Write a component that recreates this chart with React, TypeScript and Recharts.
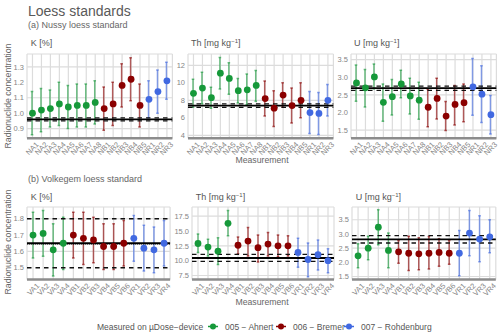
import React from 'react';
import { ComposedChart, Bar, Scatter, XAxis, YAxis, CartesianGrid, ReferenceLine } from 'recharts';

const FONT = '"Liberation Sans", Arial, Helvetica, sans-serif';

// categories (second letter = lab: A = Ahnert, B = Bremer, R = Rohdenburg)
const nussyCats = ['NA1', 'NA2', 'NA3', 'NA4', 'NA5', 'NA6', 'NA7', 'NA8', 'NB1', 'NB2', 'NB3', 'NB4', 'NB5', 'NR1', 'NR2', 'NR3'];
const volkCats = ['VA1', 'VA2', 'VA3', 'VA4', 'VB1', 'VB2', 'VB3', 'VB4', 'VB5', 'VB6', 'VR1', 'VR2', 'VR3', 'VR4'];

// (a) Nussy
const kNussy = [1.0, 1.02, 1.03, 1.06, 1.04, 1.05, 1.05, 1.07, 1.03, 1.06, 1.18, 1.22, 1.05, 1.09, 1.14, 1.21];
const kNussyLo = [0.86, 0.88, 0.91, 0.92, 0.9, 0.91, 0.91, 0.93, 0.89, 0.92, 1.04, 1.08, 0.91, 0.97, 1.0, 1.09];
const kNussyHi = [1.14, 1.16, 1.15, 1.2, 1.18, 1.19, 1.19, 1.21, 1.17, 1.2, 1.32, 1.36, 1.19, 1.21, 1.28, 1.33];

const thNussy = [8.8, 9.4, 8.3, 11.1, 10.5, 9.1, 9.2, 9.7, 8.2, 7.1, 8.6, 7.4, 8.0, 6.6, 6.5, 8.0];
const thNussyLo = [7.2, 7.6, 7.1, 9.3, 8.7, 7.7, 7.5, 7.9, 6.2, 5.0, 7.2, 5.4, 6.0, 4.2, 4.1, 6.2];
const thNussyHi = [10.4, 11.2, 9.5, 12.9, 12.3, 10.5, 11.0, 11.4, 10.2, 9.1, 10.0, 9.4, 10.0, 9.0, 8.9, 9.8];

const uNussy = [2.84, 2.7, 3.01, 2.29, 2.45, 2.81, 2.47, 2.35, 2.15, 2.4, 1.9, 2.23, 2.28, 2.73, 2.52, 1.94];
const uNussyLo = [2.32, 2.16, 2.67, 1.75, 1.93, 2.42, 1.96, 1.81, 1.6, 1.82, 1.49, 1.65, 1.74, 1.92, 1.72, 1.39];
const uNussyHi = [3.35, 3.22, 3.38, 2.81, 2.94, 3.2, 2.97, 2.86, 2.67, 2.97, 2.31, 2.77, 2.81, 3.53, 3.33, 2.48];

// (b) Volkegem
const kVolk = [1.7, 1.71, 1.61, 1.65, 1.7, 1.68, 1.67, 1.63, 1.63, 1.65, 1.68, 1.62, 1.61, 1.65];
const kVolkLo = [1.56, 1.57, 1.45, 1.49, 1.56, 1.52, 1.53, 1.49, 1.49, 1.51, 1.54, 1.48, 1.47, 1.51];
const kVolkHi = [1.84, 1.85, 1.77, 1.81, 1.84, 1.84, 1.81, 1.77, 1.77, 1.79, 1.82, 1.76, 1.75, 1.79];

const thVolk = [12.9, 12.3, 11.6, 16.3, 12.6, 13.3, 12.2, 12.8, 12.5, 12.5, 11.4, 10.2, 11.0, 10.0];
const thVolkLo = [11.4, 10.8, 9.35, 14.2, 11.15, 10.8, 9.8, 10.8, 10.65, 10.8, 8.9, 7.3, 8.45, 7.95];
const thVolkHi = [14.5, 13.6, 13.85, 18.45, 14.0, 15.6, 14.35, 14.75, 14.35, 14.2, 13.8, 13.0, 13.5, 12.0];

const uVolk = [2.23, 2.5, 3.24, 2.42, 2.37, 2.32, 2.3, 2.32, 2.35, 2.32, 2.32, 3.03, 2.82, 2.9];
const uVolkLo = [1.81, 2.09, 2.62, 1.81, 1.97, 1.71, 1.74, 1.76, 1.86, 1.93, 1.53, 2.23, 2.02, 2.34];
const uVolkHi = [2.65, 2.92, 3.85, 3.03, 2.77, 2.92, 2.87, 2.91, 2.83, 2.77, 3.12, 3.83, 3.64, 3.5];

// reference values: [mean, lower, upper]
const refKNussy = [0.96, 0.95, 0.97];
const refThNussy = [7.4, 7.2, 7.6];
const refUNussy = [2.69, 2.63, 2.75];
const refKVolk = [1.65, 1.5, 1.8];
const refThVolk = [10.45, 9.9, 11.05];
const refUVolk = [2.81, 2.68, 2.94];

const groupColors: Record<string, string> = { A: '#16993a', B: '#8b0000', R: '#4169e1' };
const colorOf = (cat: string) => groupColors[cat.charAt(1)];

const legendItems = [
  { key: 'A', label: '005 − Ahnert' },
  { key: 'B', label: '006 − Bremer' },
  { key: 'R', label: '007 − Rohdenburg' },
];

const YW = 26;
const XH = 34;
const MT = 2;
const MR = 4;

const ErrShape = (p: any) => {
  const { x, y, width, height, payload } = p;
  if (x == null || y == null) return null;
  const cx = x + width / 2;
  return (
    <g stroke={colorOf(payload.cat)} strokeOpacity={0.62} strokeWidth={1.5}>
      <line x1={cx} x2={cx} y1={y} y2={y + height} />
      <line x1={cx - 1.3} x2={cx + 1.3} y1={y} y2={y} />
      <line x1={cx - 1.3} x2={cx + 1.3} y1={y + height} y2={y + height} />
    </g>
  );
};

const Dot = (p: any) => <circle cx={p.cx} cy={p.cy} r={3.4} fill={colorOf(p.payload.cat)} />;

const XTick = (p: any) => {
  const { x, y, payload } = p;
  const ax = x + 3;
  const ay = y + 1;
  return (
    <text
      x={ax}
      y={ay}
      transform={`rotate(-45 ${ax} ${ay})`}
      textAnchor="end"
      dy="0.72em"
      fontSize={7.5}
      fill="#858585"
      fontFamily={FONT}
    >
      {payload.value}
    </text>
  );
};

interface Box { l: number; r: number; t: number; b: number }

interface PanelProps {
  cats: string[];
  vals: number[];
  lo: number[];
  hi: number[];
  domain: [number, number];
  ticks: number[];
  digits: number;
  refs: number[];
  box: Box;
  dotted?: number;
}

const Panel = ({ cats, vals, lo, hi, domain, ticks, digits, refs, box, dotted }: PanelProps) => {
  const data = cats.map((c, i) => ({ cat: c, v: vals[i], range: [lo[i], hi[i]] }));
  const w = box.r - box.l + YW + MR;
  const h = box.b - box.t + MT + XH;
  return (
    <div style={{ position: 'absolute', left: box.l - YW, top: box.t - MT }}>
      <ComposedChart width={w} height={h} data={data} margin={{ top: MT, right: MR, bottom: 0, left: 0 }}>
        <CartesianGrid stroke="#dcdcdc" strokeWidth={1.2} />
        <XAxis
          dataKey="cat"
          type="category"
          height={XH}
          interval={0}
          tick={<XTick />}
          tickLine={false}
          tickSize={0}
          tickMargin={2}
          padding={{ left: 1, right: 1 }}
          axisLine={{ stroke: '#8c8c8c', strokeWidth: 2.5 }}
        />
        <YAxis
          type="number"
          domain={domain}
          ticks={ticks}
          allowDataOverflow
          width={YW}
          axisLine={false}
          tickLine={false}
          tickSize={0}
          tickMargin={3}
          tick={{ fontSize: 7.5, fill: '#858585', fontFamily: FONT }}
          tickFormatter={(v: number) => v.toFixed(digits)}
        />
        <Bar dataKey="range" barSize={4} shape={ErrShape} isAnimationActive={false} />
        <ReferenceLine y={refs[0]} stroke="#000" strokeWidth={1.8} />
        {dotted != null && <ReferenceLine y={dotted} stroke="#000" strokeWidth={0.8} strokeDasharray="1 1" />}
        <ReferenceLine y={refs[1]} stroke="#111" strokeWidth={1.3} strokeDasharray="4.5 4" />
        <ReferenceLine y={refs[2]} stroke="#111" strokeWidth={1.3} strokeDasharray="4.5 4" />
        <Scatter dataKey="v" shape={Dot} isAnimationActive={false} />
      </ComposedChart>
    </div>
  );
};

const PanelTitle = ({ x, y, el }: { x: number; y: number; el: string }) => {
  if (el === 'K') {
    return (
      <text x={x} y={y} fontSize={9} fill="#555">
        K [%]
      </text>
    );
  }
  return (
    <text x={x} y={y} fontSize={9} fill="#555">
      {el} [mg kg
      <tspan fontSize={6} dy={-3.5}>
        −1
      </tspan>
      <tspan dy={3.5}>]</tspan>
    </text>
  );
};

const top = { t: 53.7, b: 138 };
const bot = { t: 206.5, b: 279 };

const boxes = {
  kN: { l: 27.3, r: 172.7, ...top },
  thN: { l: 187.6, r: 333, ...top },
  uN: { l: 350.6, r: 496, ...top },
  kV: { l: 27.3, r: 170.4, ...bot },
  thV: { l: 192.3, r: 334.3, ...bot },
  uV: { l: 352.2, r: 496, ...bot },
};

export default function App() {
  return (
    <div style={{ position: 'absolute', left: 0, top: 0, width: 500, height: 335, background: '#fff', fontFamily: FONT }}>
      <Panel cats={nussyCats} vals={kNussy} lo={kNussyLo} hi={kNussyHi} domain={[0.837, 1.384]} ticks={[0.9, 1.0, 1.1, 1.2, 1.3]} digits={1} refs={refKNussy} box={boxes.kN} />
      <Panel cats={nussyCats} vals={thNussy} lo={thNussyLo} hi={thNussyHi} domain={[3.66, 13.29]} ticks={[4, 6, 8, 10, 12]} digits={0} refs={refThNussy} box={boxes.thN} />
      <Panel cats={nussyCats} vals={uNussy} lo={uNussyLo} hi={uNussyHi} domain={[1.27, 3.66]} ticks={[1.5, 2.0, 2.5, 3.0, 3.5]} digits={1} refs={refUNussy} box={boxes.uN} />
      <Panel cats={volkCats} vals={kVolk} lo={kVolkLo} hi={kVolkHi} domain={[1.428, 1.872]} ticks={[1.5, 1.6, 1.7, 1.8]} digits={1} refs={refKVolk} box={boxes.kV} dotted={1.645} />
      <Panel cats={volkCats} vals={thVolk} lo={thVolkLo} hi={thVolkHi} domain={[6.83, 19.05]} ticks={[7.5, 10, 12.5, 15, 17.5]} digits={1} refs={refThVolk} box={boxes.thV} />
      <Panel cats={volkCats} vals={uVolk} lo={uVolkLo} hi={uVolkHi} domain={[1.394, 3.95]} ticks={[1.5, 2.0, 2.5, 3.0, 3.5]} digits={1} refs={refUVolk} box={boxes.uV} />

      <svg width={500} height={335} style={{ position: 'absolute', left: 0, top: 0, pointerEvents: 'none' }} fontFamily={FONT}>
        <text x={28} y={16} fontSize={14} fill="#595959">Loess standards</text>
        <text x={28} y={27.5} fontSize={9} fill="#666">(a) Nussy loess standard</text>
        <text x={28} y={182} fontSize={9} fill="#666">(b) Volkegem loess standard</text>

        <PanelTitle x={boxes.kN.l + 3.5} y={46} el="K" />
        <PanelTitle x={boxes.thN.l + 3.5} y={46} el="Th" />
        <PanelTitle x={boxes.uN.l + 3.5} y={46} el="U" />
        <PanelTitle x={boxes.kV.l + 3.5} y={200} el="K" />
        <PanelTitle x={boxes.thV.l + 3.5} y={200} el="Th" />
        <PanelTitle x={boxes.uV.l + 3.5} y={200} el="U" />

        <text x={11} y={96} transform="rotate(-90 11 96)" textAnchor="middle" fontSize={8.7} fill="#666">Radionuclide concentration</text>
        <text x={11} y={242} transform="rotate(-90 11 242)" textAnchor="middle" fontSize={8.7} fill="#666">Radionuclide concentration</text>
        <text x={262} y={163} textAnchor="middle" fontSize={8.7} fill="#666">Measurement</text>
        <text x={262} y={305} textAnchor="middle" fontSize={8.7} fill="#666">Measurement</text>

        <text x={97} y={329.5} fontSize={8.5} fill="#555">Measured on µDose−device</text>
        {legendItems.map((it, i) => {
          const mx = 213 + i * 68;
          return (
            <g key={it.key}>
              <line x1={mx - 5} x2={mx + 5} y1={326.5} y2={326.5} stroke={groupColors[it.key]} strokeWidth={1.5} />
              <circle cx={mx} cy={326.5} r={3} fill={groupColors[it.key]} />
              <text x={mx + 12} y={329.5} fontSize={8.5} fill="#555">{it.label}</text>
            </g>
          );
        })}
      </svg>
    </div>
  );
}
